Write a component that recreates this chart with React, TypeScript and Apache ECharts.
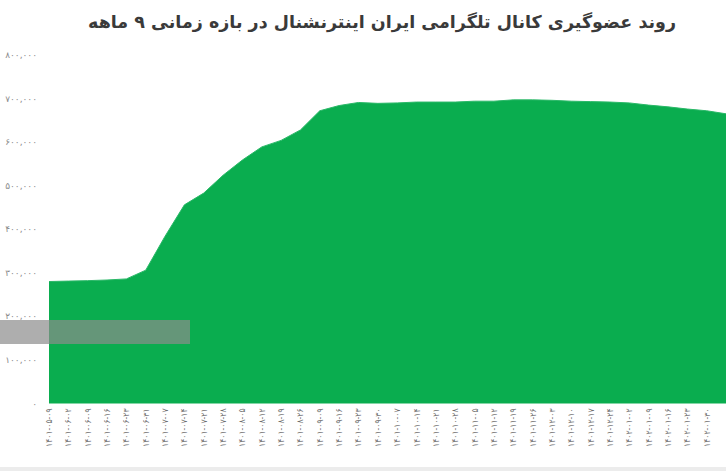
import React, { useEffect, useRef } from "react";
import * as echarts from "echarts";

const TITLE = "روند عضوگیری کانال تلگرامی ایران اینترنشنال در بازه زمانی ۹ ماهه";

const dates = [
  "۱۴۰۱-۰۵-۰۹", "۱۴۰۱-۰۶-۰۲", "۱۴۰۱-۰۶-۰۹", "۱۴۰۱-۰۶-۱۶", "۱۴۰۱-۰۶-۲۳", "۱۴۰۱-۰۶-۳۱",
  "۱۴۰۱-۰۷-۰۷", "۱۴۰۱-۰۷-۱۴", "۱۴۰۱-۰۷-۲۱", "۱۴۰۱-۰۷-۲۸",
  "۱۴۰۱-۰۸-۰۵", "۱۴۰۱-۰۸-۱۲", "۱۴۰۱-۰۸-۱۹", "۱۴۰۱-۰۸-۲۶",
  "۱۴۰۱-۰۹-۰۹", "۱۴۰۱-۰۹-۱۶", "۱۴۰۱-۰۹-۲۳", "۱۴۰۱-۰۹-۳۰",
  "۱۴۰۱-۱۰-۰۷", "۱۴۰۱-۱۰-۱۴", "۱۴۰۱-۱۰-۲۱", "۱۴۰۱-۱۰-۲۸",
  "۱۴۰۱-۱۱-۰۵", "۱۴۰۱-۱۱-۱۲", "۱۴۰۱-۱۱-۱۹", "۱۴۰۱-۱۱-۲۶",
  "۱۴۰۱-۱۲-۰۳", "۱۴۰۱-۱۲-۱۰", "۱۴۰۱-۱۲-۱۷", "۱۴۰۱-۱۲-۲۴",
  "۱۴۰۲-۰۱-۰۲", "۱۴۰۲-۰۱-۰۹", "۱۴۰۲-۰۱-۱۶", "۱۴۰۲-۰۱-۲۳", "۱۴۰۲-۰۱-۳۰",
  "",
];

const members = [
  280000, 281000, 282000, 283500, 286000, 306000,
  384000, 456000, 483000, 524000,
  559000, 589000, 604000, 628000,
  672000, 684000, 691000, 689000,
  690000, 692000, 692000, 692000,
  694000, 694000, 697000, 697000,
  696000, 694000, 693000, 692000,
  690000, 685000, 681000, 676000, 672000,
  665000,
];

const Y_MAX = 800000;
const Y_STEP = 100000;

const FA_DIGITS = "۰۱۲۳۴۵۶۷۸۹";
const toFa = (s: string) => s.replace(/\d/g, (d) => FA_DIGITS[Number(d)]);
const fmt = (v: number) =>
  toFa(String(Math.round(v)).replace(/\B(?=(\d{3})+(?!\d))/g, ","));

export default function App() {
  const ref = useRef<HTMLDivElement>(null);
  useEffect(() => {
    if (!ref.current) return;
    const chart = echarts.init(ref.current, null, { renderer: "svg" });
    chart.setOption({
      animation: false,
      backgroundColor: "#ffffff",
      title: {
        text: TITLE,
        right: 45,
        top: 8,
        textStyle: {
          fontFamily: "DejaVu Sans",
          fontSize: 17.5,
          fontWeight: "bold",
          color: "#3a3a3a",
        },
      },
      grid: { left: 49, right: 0, top: 55, bottom: 67.5 },
      xAxis: {
        type: "category",
        data: dates,
        boundaryGap: false,
        axisLine: { show: false },
        axisTick: { show: false },
        axisLabel: {
          interval: 0,
          rotate: 90,
          margin: 5,
          fontSize: 8.5,
          color: "#6f6f6f",
          fontFamily: "DejaVu Sans Condensed, DejaVu Sans",
        },
        splitLine: { show: false },
      },
      yAxis: {
        type: "value",
        min: 0,
        max: Y_MAX,
        interval: Y_STEP,
        axisLine: { show: false },
        axisTick: { show: false },
        splitLine: { show: false },
        axisLabel: {
          margin: 12,
          fontSize: 9,
          color: "#8a8a8a",
          fontFamily: "DejaVu Sans",
          formatter: (v: number) => fmt(v),
        },
      },
      series: [
        {
          type: "line",
          data: members,
          symbol: "none",
          lineStyle: { color: "#2bb868", width: 1 },
          areaStyle: { color: "#0aad4f", opacity: 1 },
        },
      ],
      graphic: [
        {
          type: "rect",
          shape: { x: 0, y: 320, width: 190, height: 24 },
          style: { fill: "rgba(140,140,140,0.7)" },
          z: 100,
        },
        {
          type: "rect",
          shape: { x: 0, y: 467, width: 726, height: 4 },
          style: { fill: "#ececec" },
          z: 100,
        },
      ],
    });
    return () => chart.dispose();
  }, []);
  return <div ref={ref} style={{ width: 726, height: 471, position: "absolute", left: 0, top: 0 }} />;
}
